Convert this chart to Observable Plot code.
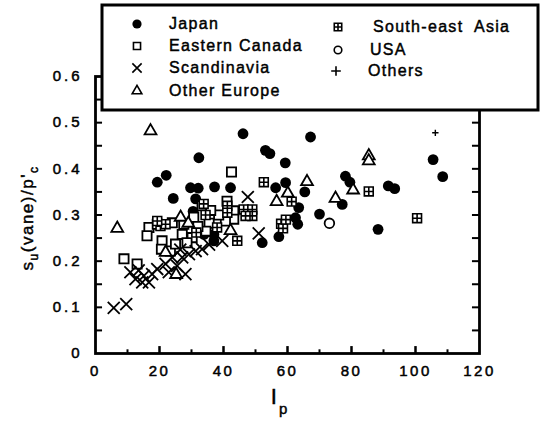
<!DOCTYPE html>
<html>
<head>
<meta charset="utf-8">
<script src="https://cdn.jsdelivr.net/npm/d3@7"></script>
<script src="https://cdn.jsdelivr.net/npm/@observablehq/plot@0.6"></script>
<style>
  body { margin: 0; background: #fff; }
  #wrap { position: relative; width: 541px; height: 421px; font-family: "Liberation Sans", Arial, sans-serif; }
  #wrap svg { position: absolute; left: 0; top: 0; }
  [aria-label="x-axis tick label"] text { letter-spacing: 2.5px; stroke: black; stroke-width: 0.5px; }
  [aria-label="y-axis tick label"] text { letter-spacing: 3px; stroke: black; stroke-width: 0.5px; }
  .heavy { stroke: black; stroke-width: 0.45px; }
</style>
</head>
<body>
<div id="wrap"></div>
<script>
// Undrained vane strength ratio vs plasticity index, by region: [Ip, su(vane)/p'c]
const japan = [
  [46.1,0.476],[67.2,0.469],[53.1,0.440],[54.5,0.433],[32.3,0.424],[59.3,0.413],
  [22.1,0.386],[19.3,0.371],[29.7,0.359],[32.1,0.358],[37.2,0.361],[42.2,0.359],
  [59.4,0.370],[56.3,0.359],[65.4,0.350],[24.3,0.336],[31.3,0.335],[63.5,0.316],
  [78.1,0.384],[79.5,0.371],[77.1,0.323],[70.0,0.302],[62.5,0.294],[63.2,0.280],
  [57.3,0.253],[52.1,0.240],[91.5,0.363],[93.5,0.357],[88.3,0.269],[105.5,0.420],
  [108.5,0.383],[37.0,0.258],[37.0,0.244],[30.5,0.308],[33.9,0.258]
];
const easternCanada = [
  [42.5,0.393],[8.9,0.205],[13.0,0.194],[16.7,0.273],[19.3,0.280],[16.1,0.255],
  [20.8,0.244],[20.6,0.226],[23.4,0.222],[25.0,0.237],[27.6,0.280],[27.1,0.258],
  [30.2,0.251],[28.6,0.240],[30.7,0.295],[33.3,0.320],[41.1,0.330],[43.2,0.309],
  [43.2,0.291],[40.6,0.287],[35.5,0.282],[38.5,0.300],[24.0,0.283],[34.5,0.265],
  [36.0,0.310],[32.0,0.275]
];
const scandinavia = [
  [5.7,0.099],[9.6,0.107],[10.9,0.176],[12.5,0.161],[14.6,0.154],[16.7,0.154],
  [15.1,0.168],[17.7,0.172],[19.3,0.183],[21.9,0.194],[22.9,0.176],[25.5,0.190],
  [24.0,0.208],[27.1,0.208],[29.2,0.215],[31.3,0.222],[33.3,0.226],[28.1,0.172],
  [47.6,0.339],[51.0,0.260],[39.6,0.244],[35.5,0.236],[26.5,0.225],[13.5,0.180]
];
const otherEurope = [
  [17.2,0.482],[6.8,0.271],[66.1,0.372],[60.1,0.347],[56.6,0.329],[85.4,0.428],
  [85.4,0.417],[80.5,0.354],[75.0,0.336],[25.2,0.171],[21.9,0.219],[26.6,0.295],
  [42.2,0.266],[29.0,0.282]
];
const southEastAsia = [
  [33.8,0.324],[52.6,0.371],[61.3,0.329],[58.0,0.281],[58.6,0.271],[41.2,0.320],
  [41.2,0.305],[46.3,0.312],[49.0,0.312],[49.0,0.298],[46.9,0.298],[44.3,0.244],
  [20.3,0.276],[21.9,0.280],[85.4,0.351],[100.5,0.293],[19.3,0.287],[34.4,0.300],
  [59.5,0.290],[38.0,0.273],[31.5,0.262]
];
const usa = [[73.1,0.282]];
const others = [[106.2,0.478]];

const xTicks = [0, 20, 40, 60, 80, 100, 120];
const xMinorTicks = [10, 30, 50, 70, 90, 110];
const yTicks = [0, 0.1, 0.2, 0.3, 0.4, 0.5, 0.6];
const yMinorTicks = [0.05, 0.1, 0.15, 0.2, 0.25, 0.3, 0.35, 0.4, 0.45, 0.5, 0.55];

// square with a cross inside
const gridSquare = {
  draw(context, size) {
    const s = Math.sqrt(size) / 2;
    context.moveTo(-s, -s); context.lineTo(s, -s); context.lineTo(s, s); context.lineTo(-s, s); context.closePath();
    context.moveTo(0, -s); context.lineTo(0, s);
    context.moveTo(-s, 0); context.lineTo(s, 0);
  }
};

const series = [
  {name: "Japan", data: japan, symbol: "circle", fill: "black", stroke: "none", r: 5.4, lr: 4.6, sw: 1.8},
  {name: "Eastern Canada", data: easternCanada, symbol: "square", fill: "white", stroke: "black", r: 5.2, lr: 4, sw: 1.8},
  {name: "Scandinavia", data: scandinavia, symbol: "times", fill: "none", stroke: "black", r: 5.5, lr: 4.3, sw: 1.8},
  {name: "Other Europe", data: otherEurope, symbol: "triangle", fill: "white", stroke: "black", r: 4.4, lr: 3.6, sw: 1.8},
  {name: "South-east  Asia", data: southEastAsia, symbol: gridSquare, fill: "white", stroke: "black", r: 5, lr: 4.2, sw: 1.6},
  {name: "USA", data: usa, symbol: "circle", fill: "white", stroke: "black", r: 4.8, lr: 3.8, sw: 1.8},
  {name: "Others", data: others, symbol: "plus", fill: "none", stroke: "black", r: 2.2, lr: 3.2, sw: 1.4}
];

const plot = Plot.plot({
  width: 541,
  height: 421,
  marginLeft: 95,
  marginRight: 62,
  marginTop: 76,
  marginBottom: 68,
  x: {domain: [0, 120]},
  y: {domain: [0, 0.6]},
  style: {fontFamily: "Liberation Sans, Arial, sans-serif", fontSize: "15px", color: "black", background: "white"},
  marks: [
    Plot.axisX({ticks: xTicks, tickSize: 0, tickPadding: 12, tickFormat: d => String(d), label: null}),
    Plot.axisY({ticks: yTicks, tickSize: 0, tickPadding: 13, tickFormat: d => d === 0 ? "0" : d.toFixed(1), label: null}),
    Plot.ruleX(xTicks.slice(1, -1), {x: d => d, y1: 0, y2: 0.015, strokeWidth: 2.5}),
    Plot.ruleX(xMinorTicks, {x: d => d, y1: 0, y2: 0.008, strokeWidth: 2}),
    Plot.ruleY(yMinorTicks, {y: d => d, x1: 0, x2: 2.2, strokeWidth: 2}),
    Plot.ruleY(yMinorTicks, {y: d => d, x1: 117.8, x2: 120, strokeWidth: 2}),
    Plot.frame({strokeWidth: 2.8}),
    ...series.map(s => Plot.dot(s.data, {
      x: d => d[0], y: d => d[1],
      symbol: s.symbol, r: s.r,
      fill: s.fill, stroke: s.stroke, strokeWidth: s.sw
    }))
  ]
});

const wrap = document.getElementById("wrap");
wrap.appendChild(plot);

const svg = d3.select(plot);

// y-axis title: s_u(vane)/p'_c
const yTitle = svg.append("text")
  .attr("class", "heavy")
  .attr("transform", "translate(33,218) rotate(-90)")
  .attr("text-anchor", "middle")
  .attr("font-size", 17)
  .attr("letter-spacing", "1.5px")
  .attr("fill", "black");
yTitle.append("tspan").text("s");
yTitle.append("tspan").attr("dy", 5).attr("font-size", 12).text("u");
yTitle.append("tspan").attr("dy", -5).text("(vane)/p'");
yTitle.append("tspan").attr("dy", 5).attr("font-size", 12).text("c");

// x-axis title: I_p
const xTitle = svg.append("text")
  .attr("class", "heavy")
  .attr("x", 279).attr("y", 404)
  .attr("font-size", 22)
  .attr("fill", "black");
xTitle.append("tspan").text("I");
xTitle.append("tspan").attr("dy", 10).attr("dx", 2).attr("font-size", 15).text("p");

// legend box drawn over the top of the frame
const legend = d3.select(wrap).append("svg")
  .attr("width", 541).attr("height", 421)
  .style("pointer-events", "none");
legend.append("rect")
  .attr("x", 102).attr("y", 5).attr("width", 436).attr("height", 105)
  .attr("fill", "white").attr("stroke", "black").attr("stroke-width", 3);

const symbolType = {
  circle: d3.symbolCircle, square: d3.symbolSquare, times: d3.symbolTimes,
  triangle: d3.symbolTriangle, plus: d3.symbolPlus
};
const legendPos = [
  {sx: 137, sy: 24, tx: 169, ty: 29},
  {sx: 137, sy: 46, tx: 169, ty: 51},
  {sx: 137, sy: 68, tx: 169, ty: 73},
  {sx: 137, sy: 91, tx: 169, ty: 96},
  {sx: 338, sy: 27, tx: 373, ty: 32},
  {sx: 338, sy: 50, tx: 370, ty: 55},
  {sx: 336, sy: 71, tx: 368, ty: 76}
];
series.forEach((s, i) => {
  const p = legendPos[i];
  const type = typeof s.symbol === "string" ? symbolType[s.symbol] : s.symbol;
  legend.append("path")
    .attr("transform", `translate(${p.sx},${p.sy})`)
    .attr("d", d3.symbol(type, Math.PI * s.lr * s.lr)())
    .attr("fill", s.fill).attr("stroke", s.stroke).attr("stroke-width", 1.6);
  legend.append("text")
    .attr("class", "heavy")
    .attr("x", p.tx).attr("y", p.ty)
    .attr("font-size", 16)
    .attr("letter-spacing", "1.3px")
    .attr("xml:space", "preserve")
    .style("white-space", "pre")
    .attr("fill", "black")
    .text(s.name);
});
</script>
</body>
</html>
